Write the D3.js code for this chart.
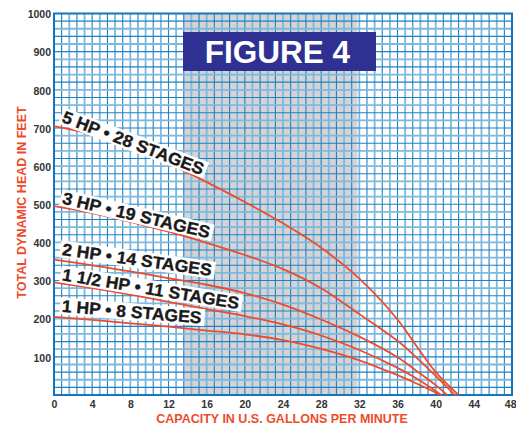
<!DOCTYPE html>
<html><head><meta charset="utf-8">
<script src="https://cdn.jsdelivr.net/npm/d3@7"></script>
<style>
body{margin:0;background:#fff;}
svg{display:block;}
text{font-family:"Liberation Sans",Arial,Helvetica,sans-serif;font-weight:bold;}
</style>
</head><body>
<svg id="c" width="516" height="424"></svg>
<script>
// ---- data ----
const xTicks = [0,4,8,12,16,20,24,28,32,36,40,44,48];
const yTicks = [100,200,300,400,500,600,700,800,900,1000];
const xTitle = "CAPACITY IN U.S. GALLONS PER MINUTE";
const yTitle = "TOTAL DYNAMIC HEAD IN FEET";
const figTitle = "FIGURE 4";
const shadeRange = [13.6, 31.8];

const hp5_gpm = [0,4,8,12,16,20,24,28,32,36,38,40,42.4];
const hp5_ft  = [705,683,650,607,558,506,450,386,305,198,128,60,0];
const hp3_gpm = [0,4,8,12,16,20,24,28,32,36,38,40,42.0];
const hp3_ft  = [495,477,454,428,399,367,330,280,212,142,98,50,0];
const hp2_gpm = [0,4,8,12,16,20,24,28,32,36,38,40,41.2];
const hp2_ft  = [355,340,324,306,289,267,237,198,153,99,63,26,0];
const hp15_gpm = [0,4,8,12,16,20,24,28,32,36,38,40.6];
const hp15_ft  = [295,280,263,244,225,207,185,156,118,71,43,0];
const hp1_gpm = [0,4,8,12,16,20,24,28,32,36,38,40.5];
const hp1_ft  = [205,197,188,179,169,159,144,121,91,52,30,0];

const seriesNames = ["5 HP • 28 STAGES","3 HP • 19 STAGES","2 HP • 14 STAGES","1 1/2 HP • 11 STAGES","1 HP • 8 STAGES"];
const seriesGpm = [hp5_gpm,hp3_gpm,hp2_gpm,hp15_gpm,hp1_gpm];
const seriesFt  = [hp5_ft,hp3_ft,hp2_ft,hp15_ft,hp1_ft];

// label placement (style/position, not data)
const labelPos = [
  {gpm:0.73, ft:716, angle:20.8, len:150},
  {gpm:0.78, ft:502, angle:13.3, len:151},
  {gpm:0.78, ft:367, angle:8.0,  len:151},
  {gpm:0.78, ft:301, angle:9.3,  len:179},
  {gpm:0.78, ft:218, angle:4.8,  len:140}
];

// ---- drawing ----
const svg = d3.select("#c");
const x = d3.scaleLinear().domain([0,48]).range([54,512]);
const y = d3.scaleLinear().domain([0,1000]).range([395,13.5]);
const red = "#ee4b2b";
const darkGrid = "#1f80c2", lightGrid = "#7db8df";

svg.append("rect").attr("width",516).attr("height",424).attr("fill","#fff");

// shaded band
svg.append("rect")
  .attr("x", x(shadeRange[0])).attr("y", y(1000))
  .attr("width", x(shadeRange[1]) - x(shadeRange[0]))
  .attr("height", y(0) - y(1000))
  .attr("fill", "#d4d4d6");

// grid
const g = svg.append("g");
const vIdx = d3.range(1, 60);
g.selectAll(".v").data(vIdx).join("line")
  .attr("x1", i => x(i*0.8)).attr("x2", i => x(i*0.8))
  .attr("y1", y(0)).attr("y2", y(1000))
  .attr("stroke", i => i%2 ? darkGrid : lightGrid)
  .attr("stroke-width", i => i%2 ? 1.1 : 1.8);
const hIdx = d3.range(1, 50);
g.selectAll(".h").data(hIdx).join("line")
  .attr("y1", j => y(j*20)).attr("y2", j => y(j*20))
  .attr("x1", x(0)).attr("x2", x(48))
  .attr("stroke", j => j%2 ? darkGrid : lightGrid)
  .attr("stroke-width", j => j%2 ? 1.1 : 1.8);

// frame
svg.append("rect")
  .attr("x", x(0)).attr("y", y(1000))
  .attr("width", x(48)-x(0)).attr("height", y(0)-y(1000))
  .attr("fill","none").attr("stroke","#1574bb").attr("stroke-width",2);

// title box
svg.append("rect").attr("x",183).attr("y",32).attr("width",193).attr("height",39).attr("fill","#2e3192");
svg.append("text").attr("x",277.5).attr("y",63).attr("text-anchor","middle")
  .attr("fill","#fff").style("font-size","31.5px").text(figTitle);

// axes
const yAxis = svg.append("g").attr("transform",`translate(${x(0)},0)`)
  .call(d3.axisLeft(y).tickValues(yTicks).tickFormat(d3.format("d")).tickSize(0).tickPadding(3));
yAxis.select(".domain").remove();
yAxis.selectAll("text").attr("fill","#333").style("font-size","10.5px")
  .style("font-family","'Liberation Sans',Arial,sans-serif").style("font-weight","bold").attr("dy","0.4em");

const xAxis = svg.append("g").attr("transform",`translate(0,${y(0)})`)
  .call(d3.axisBottom(x).tickValues(xTicks).tickFormat(d3.format("d")).tickSize(0).tickPadding(6));
xAxis.select(".domain").remove();
xAxis.selectAll("text").attr("fill","#333").style("font-size","10.5px")
  .style("font-family","'Liberation Sans',Arial,sans-serif").style("font-weight","bold");
xAxis.selectAll("text").filter(d => d === 48).attr("text-anchor","end").attr("x", 516 - x(48));

// axis titles
svg.append("text").attr("x",282).attr("y",422.5).attr("text-anchor","middle")
  .attr("fill",red).style("font-size","12.5px").text(xTitle);
svg.append("text").attr("transform","translate(26,202.5) rotate(-90)").attr("text-anchor","middle")
  .attr("fill",red).style("font-size","12.5px").text(yTitle);

// labels
const labelNodes = [];
seriesNames.forEach((name, k) => {
  const p = labelPos[k];
  const lg = svg.append("g")
    .attr("transform", `translate(${x(p.gpm)},${y(p.ft)}) rotate(${p.angle})`);
  lg.append("rect").attr("fill","#fff")
    .attr("x", -2).attr("y", -14.5).attr("width", p.len+5).attr("height", 17);
  lg.append("text").attr("x",0).attr("y",0)
    .attr("fill","#1a1a1a").attr("stroke","#1a1a1a").attr("stroke-width",0.35)
    .style("font-size","17px")
    .attr("textLength", p.len).attr("lengthAdjust","spacingAndGlyphs")
    .text(name);
  labelNodes.push(lg);
});

// curves
const line = d3.line().x(d => x(d[0])).y(d => y(d[1])).curve(d3.curveCatmullRom.alpha(0.5));
seriesNames.forEach((name, k) => {
  const pts = seriesGpm[k].map((v,i) => [v, seriesFt[k][i]]);
  svg.append("path").datum(pts).attr("d", line)
    .attr("fill","none").attr("stroke",red).attr("stroke-width",1.8);
});

// labels above curves
labelNodes.forEach(lg => { svg.node().appendChild(lg.node()); });
</script>
</body></html>
